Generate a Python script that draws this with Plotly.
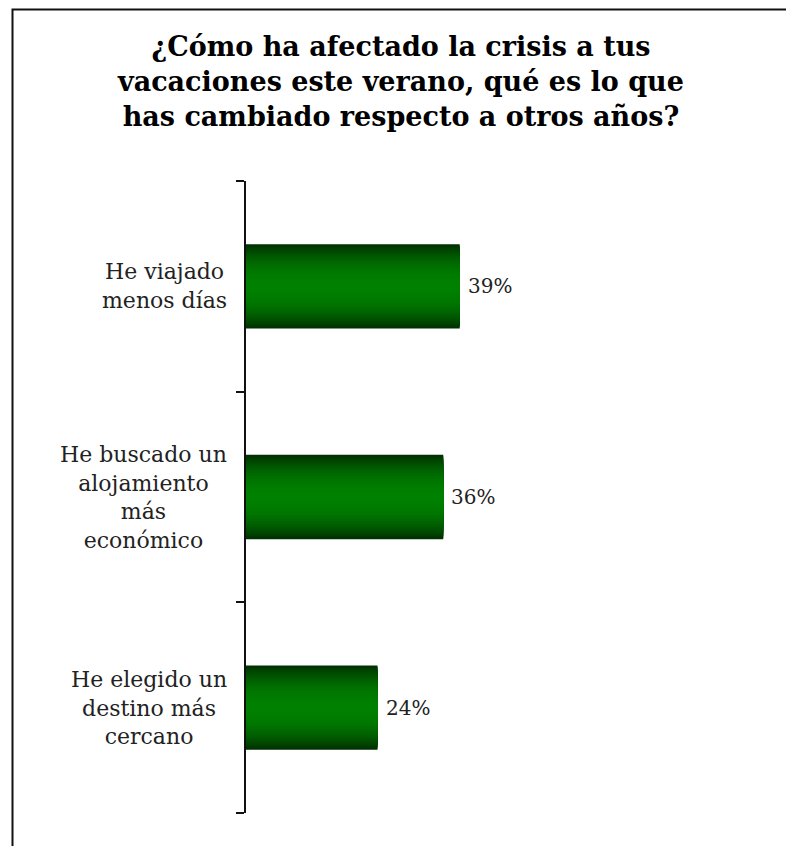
import plotly.graph_objects as go

categories = [
    "He viajado<br>menos días",
    "He buscado un<br>alojamiento<br>más<br>económico",
    "He elegido un<br>destino más<br>cercano",
]
values = [39, 36, 24]
value_labels = ["39%", "36%", "24%"]
title_text = ("<b>¿Cómo ha afectado la crisis a tus<br>vacaciones este verano, qué es lo que"
              "<br>has cambiado respecto a otros años?</b>")

FONT = "DejaVu Serif"
OFF = 8  # page offset of the figure
W, H = 794, 846
L, T = 246 - OFF, 181 - OFF
R = 40
plot_w = W - L - R
plot_h = (813 - OFF) - T
B = H - T - plot_h
px_per_unit = 5.48
xmax = plot_w / px_per_unit

pos = list(range(len(categories)))
boundaries = [i - 0.5 for i in range(len(categories) + 1)]

fig = go.Figure()

# layered bars to simulate a vertical gradient (dark edges, bright center)
N = 28
bar_w = 0.4
for k in range(N):
    t = 1 - k / N
    g = int(round(128 * (1 - 0.62 * t ** 2.2)))
    fig.add_trace(go.Bar(
        x=values, y=pos, orientation="h",
        width=bar_w * t,
        marker=dict(color=f"rgb(0,{g},0)", line=dict(width=0)),
        hoverinfo="skip", showlegend=False,
    ))

annotations = []
for p, c, v, lab in zip(pos, categories, values, value_labels):
    annotations.append(dict(x=v, y=p, xref="x", yref="y", text=lab, showarrow=False,
                            xanchor="left", xshift=6, font=dict(family=FONT, size=20, color="#222")))
    annotations.append(dict(x=0, y=p, xref="x", yref="y", text=c, showarrow=False,
                            xanchor="right", xshift=-17, align="center",
                            font=dict(family=FONT, size=22, color="#222")))

annotations.append(dict(x=(400 - OFF - L) / plot_w, y=1 + (T - (81 - OFF)) / plot_h,
                        xref="paper", yref="paper",
                        text=title_text, showarrow=False, xanchor="center", yanchor="middle",
                        align="center",
                        font=dict(family=FONT, size=27, color="#000")))

eps = 1e-4
fig.update_layout(
    width=W, height=H,
    margin=dict(l=L, r=R, t=T, b=B),
    paper_bgcolor="white", plot_bgcolor="white",
    barmode="overlay",
    annotations=annotations,
    xaxis=dict(range=[0, xmax], visible=False, fixedrange=True),
    yaxis=dict(
        range=[boundaries[-1] + eps, boundaries[0] - eps],
        tickmode="array", tickvals=boundaries,
        showline=True, linecolor="#111", linewidth=2,
        ticks="outside", ticklen=8, tickwidth=2, tickcolor="#111",
        showticklabels=False, showgrid=False, zeroline=False,
    ),
    shapes=[dict(type="rect", xref="paper", yref="paper",
                 x0=(12.5 - OFF - L) / plot_w, x1=2.0,
                 y0=-1.0, y1=1 + (T - 1.5) / plot_h,
                 line=dict(color="#111", width=2), fillcolor="rgba(0,0,0,0)", layer="below")],
)

fig.write_html("out.html")
